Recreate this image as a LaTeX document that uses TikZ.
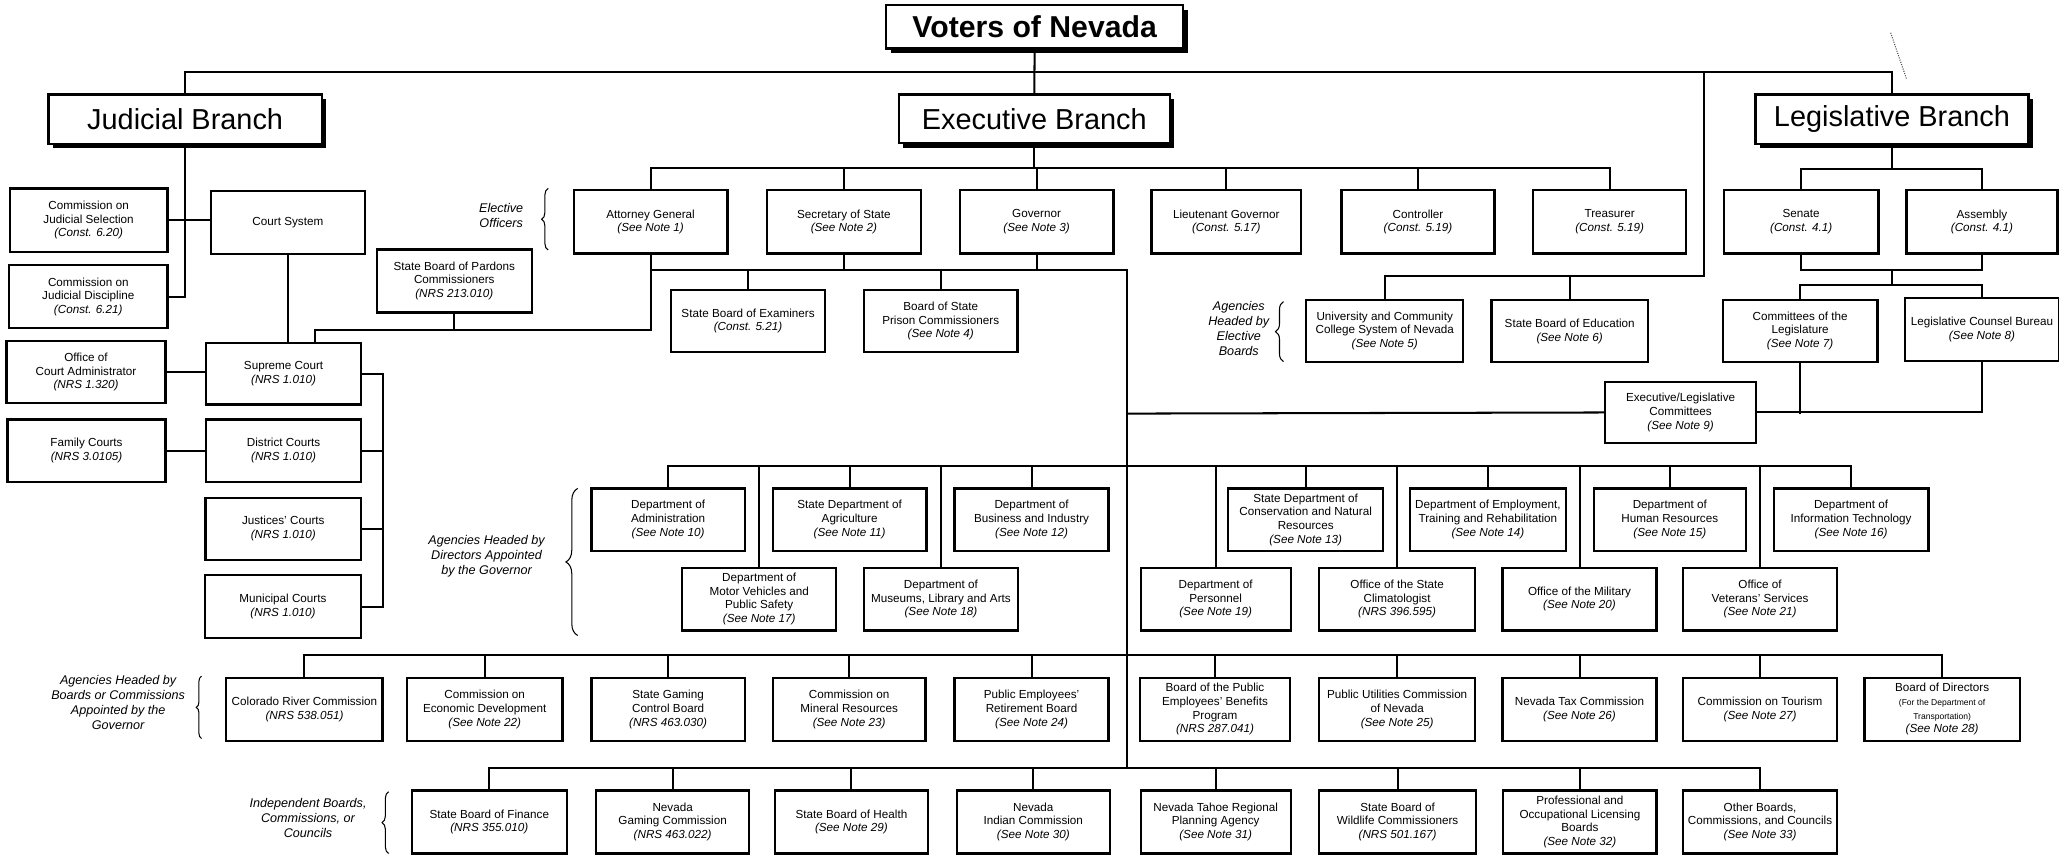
\documentclass[tikz,border=0pt]{standalone}
\usepackage{fontspec}
\setmainfont{Liberation Sans}
\usetikzlibrary{calc,decorations.pathreplacing}
\tikzset{
 box/.style={draw, line width=1.7pt, fill=white, align=center, inner sep=0pt, font=\fontsize{8.9}{10.4}\selectfont},
 titlebox/.style={draw, line width=1.7pt, fill=white, inner sep=0pt, font=\fontsize{22}{26}\selectfont},
 conn/.style={line width=1.55pt},
 lbl/.style={align=center, font=\fontsize{9.6}{11.4}\selectfont\itshape},
 brc/.style={decorate, decoration={brace, amplitude=#1}, line width=0.8pt},
}
\newcommand\snote[1]{\textit{(#1)}}
\newcommand\bx[6]{\node[box, minimum width={#4-#2}, minimum height={#5-#3}] (#1) at ({(#2+#4)/2},{(#3+#5)/2}) {#6};}
\newcommand\tbx[7]{\fill ({#2+3.5},{#3+3.5}) rectangle ({#4+3.5},{#5+3.5});
 \node[titlebox, font=#6, minimum width={#4-#2}, minimum height={#5-#3}] (#1) at ({(#2+#4)/2},{(#3+#5)/2}) {#7};}
\begin{document}
\begin{tikzpicture}[x=1pt,y=-1pt]
\fill[white] (0,0) rectangle (1568.2,652);
\useasboundingbox (0,0) rectangle (1568.2,652);

% ---------- title boxes ----------
\tbx{voters}{675}{4}{901}{37}{\bfseries\fontsize{23}{27}\selectfont}{Voters of Nevada}
\tbx{judicial}{37}{72}{245}{109.5}{\fontsize{22}{26}\selectfont}{Judicial Branch}
\tbx{exec}{684.5}{72}{891}{109}{\fontsize{22}{26}\selectfont}{Executive Branch}
\tbx{leg}{1337}{72}{1545}{109.5}{\fontsize{22}{26}\selectfont}{Legislative Branch}

% ---------- judicial side ----------
\bx{cjs}{7.5}{143.5}{127.5}{191.7}{Commission on\\Judicial Selection\\\snote{Const. 6.20}}
\bx{court}{160.5}{145.5}{278}{193.5}{Court System}
\bx{cjd}{7}{202}{127.5}{250}{Commission on\\Judicial Discipline\\\snote{Const. 6.21}}
\bx{pardons}{287}{190}{405}{238}{State Board of Pardons\\Commissioners\\\snote{NRS 213.010}}
\bx{oca}{5}{260}{126}{307}{Office of\\Court Administrator\\\snote{NRS 1.320}}
\bx{supreme}{157}{261}{275}{308}{Supreme Court\\\snote{NRS 1.010}}
\bx{family}{5.8}{319.5}{126}{367}{Family Courts\\\snote{NRS 3.0105}}
\bx{district}{157}{319.5}{275}{367}{District Courts\\\snote{NRS 1.010}}
\bx{justices}{156.5}{379}{275}{426.5}{Justices' Courts\\\snote{NRS 1.010}}
\bx{municipal}{156}{438}{275}{486}{Municipal Courts\\\snote{NRS 1.010}}

% ---------- elective officers ----------
\bx{ag}{437}{145}{554}{193}{Attorney General\\\snote{See Note 1}}
\bx{sos}{584}{145}{701.5}{193}{Secretary of State\\\snote{See Note 2}}
\bx{gov}{731}{145}{848}{193}{Governor\\\snote{See Note 3}}
\bx{ltgov}{877}{145}{991}{193}{Lieutenant Governor\\\snote{Const. 5.17}}
\bx{controller}{1021.7}{145}{1138.3}{193}{Controller\\\snote{Const. 5.19}}
\bx{treasurer}{1167.6}{145}{1284.3}{193}{Treasurer\\\snote{Const. 5.19}}
\bx{senate}{1313}{145}{1430.7}{193}{Senate\\\snote{Const. 4.1}}
\bx{assembly}{1452}{145}{1567}{193}{Assembly\\\snote{Const. 4.1}}

\bx{examiners}{511}{221}{628.5}{268}{State Board of Examiners\\\snote{Const. 5.21}}
\bx{prison}{658}{221}{775}{268}{Board of State\\Prison Commissioners\\\snote{See Note 4}}
\bx{university}{994.8}{228.5}{1114.5}{275.5}{University and Community\\College System of Nevada\\\snote{See Note 5}}
\bx{education}{1136}{228.5}{1255}{276}{State Board of Education\\\snote{See Note 6}}
\bx{committees}{1312}{228.5}{1430}{275.5}{Committees of the\\Legislature\\\snote{See Note 7}}
\bx{lcb}{1451}{227}{1568}{274.7}{Legislative Counsel Bureau\\\snote{See Note 8}}
\bx{execleg}{1222.5}{290.7}{1337.5}{337.6}{Executive/Legislative\\Committees\\\snote{See Note 9}}

% ---------- directors row ----------
\bx{admin}{450.5}{372}{567.2}{419.5}{Department of\\Administration\\\snote{See Note 10}}
\bx{agri}{588.6}{372}{705.6}{419.5}{State Department of\\Agriculture\\\snote{See Note 11}}
\bx{bi}{727}{372}{844.3}{419.5}{Department of\\Business and Industry\\\snote{See Note 12}}
\bx{conservation}{935.4}{372}{1053.5}{419.5}{State Department of\\Conservation and Natural\\Resources\\\snote{See Note 13}}
\bx{detr}{1073.8}{372}{1192.6}{419.5}{Department of Employment,\\Training and Rehabilitation\\\snote{See Note 14}}
\bx{dhr}{1214}{372}{1329.5}{419.5}{Department of\\Human Resources\\\snote{See Note 15}}
\bx{doit}{1350.9}{372}{1468.7}{419.5}{Department of\\Information Technology\\\snote{See Note 16}}

\bx{dmv}{519.6}{432.4}{636.9}{480.2}{Department of\\Motor Vehicles and\\Public Safety\\\snote{See Note 17}}
\bx{museums}{658}{432.4}{775.3}{480.2}{Department of\\Museums, Library and Arts\\\snote{See Note 18}}
\bx{personnel}{868.8}{432.4}{983}{480.2}{Department of\\Personnel\\\snote{See Note 19}}
\bx{climatologist}{1004.8}{432.4}{1123.4}{480.2}{Office of the State\\Climatologist\\\snote{NRS 396.595}}
\bx{military}{1144.4}{432.4}{1261.6}{480.2}{Office of the Military\\\snote{See Note 20}}
\bx{veterans}{1282}{432.4}{1399}{480.2}{Office of\\Veterans' Services\\\snote{See Note 21}}

% ---------- boards row ----------
\bx{colorado}{172.4}{516.2}{291.4}{564.4}{Colorado River Commission\\\snote{NRS 538.051}}
\bx{econ}{310}{516.2}{428.4}{564.4}{Commission on\\Economic Development\\\snote{See Note 22}}
\bx{gcb}{450.5}{516.2}{567.2}{564.4}{State Gaming\\Control Board\\\snote{NRS 463.030}}
\bx{mineral}{588.6}{516.2}{704.9}{564.4}{Commission on\\Mineral Resources\\\snote{See Note 23}}
\bx{perb}{727}{516.2}{844.3}{564.4}{Public Employees'\\Retirement Board\\\snote{See Note 24}}
\bx{pebp}{868}{516.2}{982.7}{564.4}{Board of the Public\\Employees' Benefits\\Program\\\snote{NRS 287.041}}
\bx{puc}{1004.8}{516.2}{1123.4}{564.4}{Public Utilities Commission\\of Nevada\\\snote{See Note 25}}
\bx{tax}{1144.4}{516.2}{1261.6}{564.4}{Nevada Tax Commission\\\snote{See Note 26}}
\bx{tourism}{1282}{516.2}{1399}{564.4}{Commission on Tourism\\\snote{See Note 27}}
\bx{directors}{1420}{516.2}{1538.3}{564.4}{Board of Directors\\{\fontsize{6.5}{8}\selectfont (For the Department of}\\{\fontsize{6.5}{8}\selectfont Transportation)}\\\snote{See Note 28}}

% ---------- independent row ----------
\bx{finance}{313.5}{602}{431.8}{650}{State Board of Finance\\\snote{NRS 355.010}}
\bx{ngc}{454}{602}{570.6}{650}{Nevada\\Gaming Commission\\\snote{NRS 463.022}}
\bx{health}{590.3}{602}{706.6}{650}{State Board of Health\\\snote{See Note 29}}
\bx{indian}{728.7}{602}{845.3}{650}{Nevada\\Indian Commission\\\snote{See Note 30}}
\bx{tahoe}{868.8}{602}{983}{650}{Nevada Tahoe Regional\\Planning Agency\\\snote{See Note 31}}
\bx{wildlife}{1004.8}{602}{1124.1}{650}{State Board of\\Wildlife Commissioners\\\snote{NRS 501.167}}
\bx{professional}{1145}{602}{1261.6}{650}{Professional and\\Occupational Licensing\\Boards\\\snote{See Note 32}}
\bx{other}{1282}{602}{1399}{650}{Other Boards,\\Commissions, and Councils\\\snote{See Note 33}}

% ---------- bus coordinates ----------
\coordinate (busTop) at (0,54.6);
\coordinate (jEB) at (1297.8,54.6);
\coordinate (busEB) at (0,210);
\coordinate (busEx) at (0,128);
\coordinate (busGov) at (0,205.7);
\coordinate (busPard) at (0,251);
\coordinate (trunkTop) at (858,205.7);
\coordinate (trunkBot) at (858,585.2);
\coordinate (busEL) at (0,315);
\coordinate (busLeg) at (0,128.5);
\coordinate (busSA) at (0,205.7);
\coordinate (busCL) at (0,217);
\coordinate (cbus) at (292,0);
\coordinate (bus3) at (0,354.7);
\coordinate (bus4) at (0,499);
\coordinate (bus5) at (0,585.2);
\coordinate (sj) at ($(supreme.north)+(24,0)$);

% ---------- connectors ----------
\begin{scope}[conn]
\draw (judicial.north) |- (busTop -| leg.north) -- (leg.north);
\draw (voters.south) -- (exec.north);
\draw (jEB) -- (jEB |- busEB) -| (university.north);
\draw (education.north) -- (education.north |- busEB);
% judicial
\draw (judicial.south) |- (cjd.east);
\draw (cjs.east) -- (cjs.east -| court.west);
\draw (court.south) -- (court.south |- supreme.north);
\draw (oca.east) -- (oca.east -| supreme.west);
\draw (family.east) -- (family.east -| district.west);
\draw (supreme.east) -| (cbus |- municipal.east) -- (municipal.east);
\draw (district.east) -- (district.east -| cbus);
\draw (justices.east) -- (justices.east -| cbus);
% executive
\draw (exec.south) -- (exec.south |- busEx);
\draw (ag.north) |- (busEx -| treasurer.north) -- (treasurer.north);
\foreach \n in {sos,gov,ltgov,controller} \draw (\n.north) -- (\n.north |- busEx);
\draw (ag.south) |- (sj |- busPard) -- (sj);
\draw (pardons.south) -- (pardons.south |- busPard);
\draw (ag.south |- busGov) -- (trunkTop) -- (trunkBot);
\draw (sos.south) -- (sos.south |- busGov);
\draw (gov.south) -- (gov.south |- busGov);
\draw (examiners.north) -- (examiners.north |- busGov);
\draw (prison.north) -- (prison.north |- busGov);
\draw (trunkTop |- busEL) -- (execleg.west);
\draw (execleg.east) -| (lcb.south);
\draw (committees.south) -- (committees.south |- busEL);
% legislative
\draw (leg.south) -- (leg.south |- busLeg);
\draw (senate.north) |- (busLeg -| assembly.north) -- (assembly.north);
\draw (senate.south) |- (busSA -| assembly.south) -- (assembly.south);
\draw (leg.south |- busSA) -- (leg.south |- busCL);
\draw (committees.north) |- (busCL -| lcb.north) -- (lcb.north);
% rows
\draw (admin.north) |- (bus3 -| doit.north) -- (doit.north);
\foreach \n in {dmv,agri,museums,bi,personnel,conservation,climatologist,detr,military,dhr,veterans}
  \draw (\n.north) -- (\n.north |- bus3);
\draw (colorado.north) |- (bus4 -| directors.north) -- (directors.north);
\foreach \n in {econ,gcb,mineral,perb,pebp,puc,tax,tourism}
  \draw (\n.north) -- (\n.north |- bus4);
\draw (finance.north) |- (bus5 -| other.north) -- (other.north);
\foreach \n in {ngc,health,indian,tahoe,wildlife,professional}
  \draw (\n.north) -- (\n.north |- bus5);
\end{scope}

% ---------- braces and labels ----------
\draw[brc=5pt] (417.5,190.4) -- (417.5,143.5);
\node[lbl] (lblEO) at (381.7,164) {Elective\\Officers};
\draw[brc=6pt] (977.5,275.4) -- (977.5,229.7);
\node[lbl] (lblEB) at (943.5,250) {Agencies\\Headed by\\Elective\\Boards};
\draw[brc=9pt] (440,484) -- (440,372);
\node[lbl] (lblDir) at (370.6,424) {Agencies Headed by\\Directors Appointed\\by the Governor};
\draw[brc=4pt] (153.5,562.5) -- (153.5,515);
\node[lbl] (lblBC) at (90,535) {Agencies Headed by\\Boards or Commissions\\Appointed by the\\Governor};
\draw[brc=5pt] (296,650) -- (296,603);
\node[lbl] (lblInd) at (234.6,623) {Independent Boards,\\Commissions, or\\Councils};

% scan mark
\draw[densely dotted, line width=0.8pt, black!70] (1440,25) -- (1452,60);
\end{tikzpicture}
\end{document}
